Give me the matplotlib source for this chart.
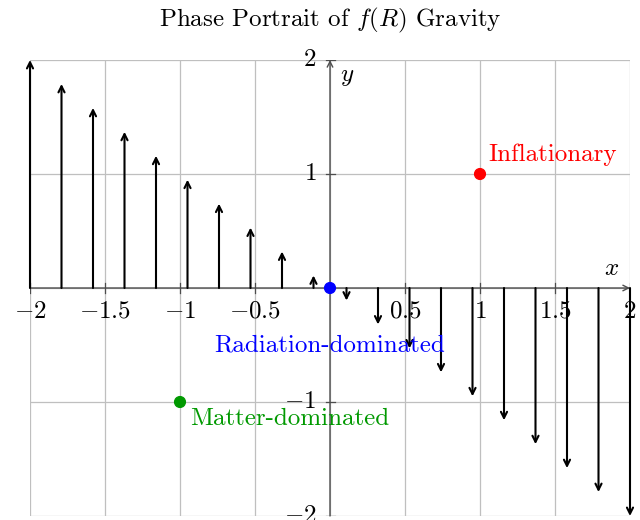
import matplotlib
matplotlib.use("Agg")
import matplotlib.pyplot as plt

plt.rcParams['font.family'] = 'serif'
plt.rcParams['font.serif'] = ['cmr10']
plt.rcParams['mathtext.fontset'] = 'cm'
plt.rcParams['axes.formatter.use_mathtext'] = True

# Vector field samples along y = 0
arrow_x = [-2.0, -1.79, -1.58, -1.37, -1.16, -0.95, -0.74, -0.53, -0.32, -0.11,
           0.11, 0.32, 0.53, 0.74, 0.95, 1.16, 1.37, 1.58, 1.79, 2.0]
arrow_dy = [2.0, 1.79, 1.58, 1.37, 1.16, 0.95, 0.74, 0.53, 0.32, 0.11,
            -0.11, -0.32, -0.53, -0.74, -0.95, -1.16, -1.37, -1.58, -1.79, -2.0]

# Fixed points
pt_names = ['Inflationary', 'Radiation-dominated', 'Matter-dominated']
pt_x = [1, 0, -1]
pt_y = [1, 0, -1]
pt_colors = ['#ff0000', '#0000ff', '#009900']

x_ticks = [-2, -1.5, -1, -0.5, 0.5, 1, 1.5, 2]
x_ticklabels = ['$-2$', '$-1.5$', '$-1$', '$-0.5$', '$0.5$', '$1$', '$1.5$', '$2$']
y_ticks = [-2, -1, 1, 2]
y_ticklabels = ['$-2$', '$-1$', '$1$', '$2$']

fig = plt.figure(figsize=(6.4, 5.2), dpi=100)
ax = fig.add_axes([30/640, 4/520, 600/640, 456/520])
ax.set_xlim(-2, 2)
ax.set_ylim(-2, 2)

# grid
for gx in [-2, -1.5, -1, -0.5, 0, 0.5, 1, 1.5, 2]:
    ax.axvline(gx, color='#bfbfbf', lw=0.9, zorder=0)
for gy in [-2, -1, 0, 1, 2]:
    ax.axhline(gy, color='#bfbfbf', lw=0.9, zorder=0)

for s in ax.spines.values():
    s.set_visible(False)

axcol = '#4d4d4d'
ax.annotate('', xy=(2, 0), xytext=(-2, 0),
            arrowprops=dict(arrowstyle='->', color=axcol, lw=1.0, shrinkA=0, shrinkB=0, mutation_scale=10),
            annotation_clip=False, zorder=1)
ax.annotate('', xy=(0, 2), xytext=(0, -2),
            arrowprops=dict(arrowstyle='->', color=axcol, lw=1.0, shrinkA=0, shrinkB=0, mutation_scale=10),
            annotation_clip=False, zorder=1)

ax.set_xticks([])
ax.set_yticks([])

fs = 18
for t, lab in zip(x_ticks, x_ticklabels):
    ax.plot([t, t], [-0.04, 0.04], color=axcol, lw=0.9, zorder=1)
    ax.text(t, -0.11, lab, ha='center', va='top', fontsize=fs, zorder=5)
for t, lab in zip(y_ticks, y_ticklabels):
    ax.plot([-0.03, 0.03], [t, t], color=axcol, lw=0.9, zorder=1)
    ax.text(-0.09, t, lab, ha='right', va='center', fontsize=fs, zorder=5)

ax.text(1.93, 0.07, '$x$', ha='right', va='bottom', fontsize=fs)
ax.text(0.065, 1.95, '$y$', ha='left', va='top', fontsize=fs)

# arrows
for x, dy in zip(arrow_x, arrow_dy):
    ax.annotate('', xy=(x, dy), xytext=(x, 0),
                arrowprops=dict(arrowstyle='->', color='black', lw=1.5, shrinkA=0, shrinkB=0, mutation_scale=11),
                zorder=3)

# fixed points
ax.scatter(pt_x, pt_y, c=pt_colors, s=60, zorder=6, clip_on=False)
ax.text(pt_x[0] + 0.053, pt_y[0] + 0.07, pt_names[0], color=pt_colors[0], fontsize=fs, ha='left', va='bottom')
ax.text(pt_x[1], pt_y[1] - 0.5, pt_names[1], color=pt_colors[1], fontsize=fs, ha='center', va='center')
ax.text(pt_x[2] + 0.065, pt_y[2] - 0.05, pt_names[2], color=pt_colors[2], fontsize=fs, ha='left', va='top')

fig.text(330/640, 1 - 20/520, 'Phase Portrait of $f(R)$ Gravity', ha='center', va='center', fontsize=fs)

fig.savefig('out.png', dpi=100)
